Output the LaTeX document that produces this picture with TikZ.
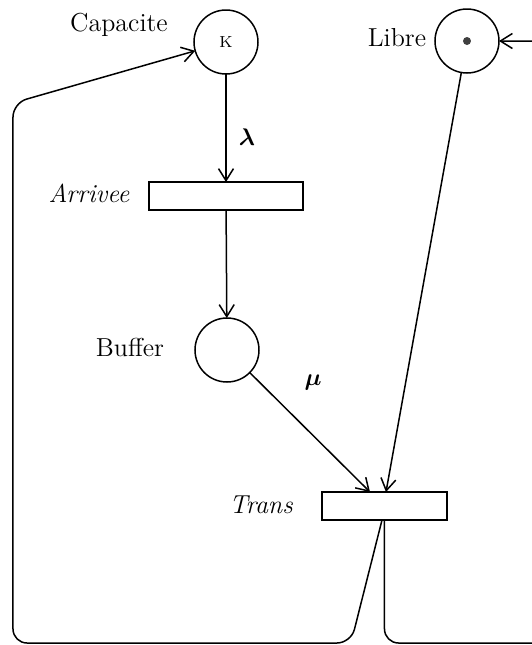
\documentclass[tikz,border=0pt]{standalone}
\usepackage{amsmath}
\usetikzlibrary{arrows.meta,calc}

\tikzset{
  place/.style={circle, draw, line width=0.75pt, minimum size=32pt, inner sep=0pt, outer sep=0pt},
  transition/.style={rectangle, draw, line width=0.75pt, minimum height=14pt, inner sep=0pt, outer sep=0pt},
  lbl/.style={anchor=base, inner sep=0pt, font=\fontsize{13}{15}\selectfont},
  arc/.style={line width=0.75pt, -{Straight Barb[length=6pt,width=7.5pt]}},
  loop/.style={arc, rounded corners=7pt},
}

\begin{document}
\begin{tikzpicture}[x=0.5pt, y=-0.5pt]
  \useasboundingbox (0,0) rectangle (532,645);
  \clip (0,0) rectangle (532,645);

  % places
  \node[place] (cap) at (226,42) {\fontsize{8}{10}\selectfont K};
  \node[place] (libre) at (467,41) {};
  \fill[black!75] (libre.center) circle (2pt);
  \node[place] (buf) at (227,350) {};

  % transitions
  \node[transition, minimum width=77pt] (arr) at (226,196) {};
  \node[transition, minimum width=62.5pt] (trans) at (384.5,506) {};

  % labels
  \node[lbl] (capl) at (119,31) {Capacite};
  \node[lbl] (librel) at (397,46) {Libre};
  \node[lbl] (arrl) at (89,202) {\itshape Arrivee};
  \node[lbl] (bufl) at (130,356) {Buffer};
  \node[lbl] (transl) at (261,513) {\itshape Trans};
  \node[lbl] (lam) at (247,145) {$\boldsymbol{\lambda}$};
  \node[lbl] (mu) at (313,385) {$\boldsymbol{\mu}$};

  % arcs
  \draw[arc] (cap) -- (arr);
  \draw[arc] (arr) -- (buf);
  \draw[arc] (buf) -- ($(trans.north)+(-14.5,0)$);
  \draw[arc] (libre) -- ($(trans.north)+(1.5,0)$);

  % return arcs
  \draw[loop] ($(trans.south)+(-2.5,0)$) -- (351,643) -- (13,643) -- (13,103) -- (cap);
  \draw[loop] (trans.south) -- (384.5,643) -- (600,643) -- (600,41) -- (libre);
\end{tikzpicture}
\end{document}
